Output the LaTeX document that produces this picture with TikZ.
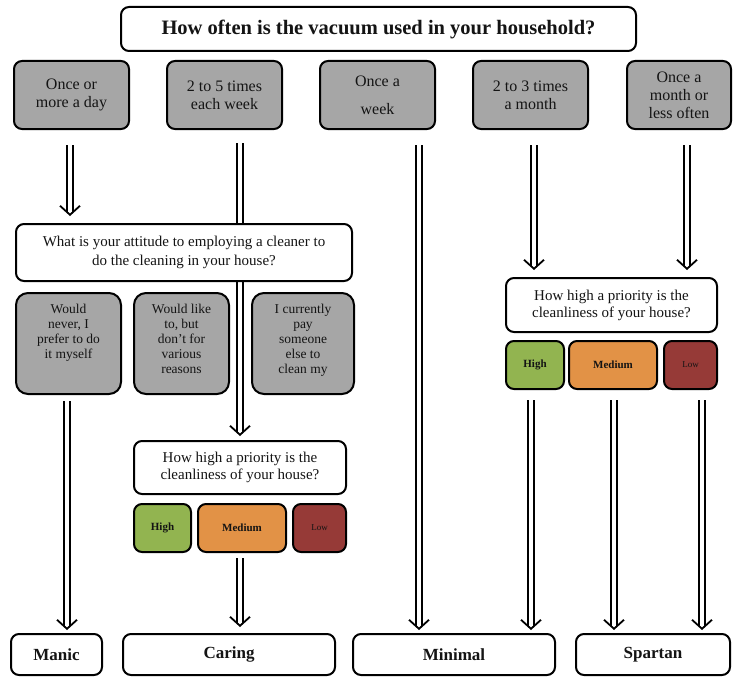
\documentclass[tikz,border=0pt]{standalone}
\usepackage{fontspec}
\setmainfont{Liberation Serif}
\usetikzlibrary{arrows.meta,positioning,backgrounds,decorations.markings}
\definecolor{choicegray}{RGB}{166,166,166}
\definecolor{highgreen}{RGB}{146,180,80}
\definecolor{medorange}{RGB}{226,146,70}
\definecolor{lowred}{RGB}{150,58,55}

\begin{document}
\begin{tikzpicture}[
    x=1pt, y=-1pt,
    node distance=5pt,
    every node/.style={text=black!92},
    base/.style={draw, line width=2pt, rounded corners=8pt, align=center, inner sep=2pt},
    title/.style={base, fill=white, minimum width=515pt, minimum height=44pt, font=\fontsize{20.5}{24}\selectfont\bfseries},
    freq/.style={base, fill=choicegray, minimum width=115pt, minimum height=68pt, font=\fontsize{16}{18}\selectfont},
    question/.style={base, fill=white, font=\fontsize{15}{19}\selectfont},
    answer/.style={base, fill=choicegray, rounded corners=12pt, minimum height=101pt, font=\fontsize{13.5}{15}\selectfont},
    level/.style={base, minimum height=48pt, font=\fontsize{11}{13}\selectfont\bfseries},
    result/.style={base, fill=white, minimum height=41pt, font=\fontsize{17}{20}\selectfont\bfseries},
    flow/.style={double, double distance=4pt, line width=1.8pt, shorten >=3.6pt,
        postaction={decorate, decoration={markings, mark=at position 1 with
            {\arrow[line width=1.8pt]{Straight Barb[length=9pt, width=20pt, line cap=butt]}}}}}
]
\useasboundingbox (0,0) rectangle (737,677);

% first question and how often
\node[title] (howoften) at (378.5,29) {How often is the vacuum used in your household?};
\node[freq] (daily) at (71.5,95) {Once or\\more a day};
\node[freq, right=36pt of daily] (weekly) {2 to 5 times\\each week};
\node[freq, right=36pt of weekly] (once) {Once a\\[10pt]week};
\node[freq, right=36pt of once] (monthly) {2 to 3 times\\a month};
\node[freq, right=37pt of monthly, minimum width=104pt] (rarely) {Once a\\month or\\less often};

% cleaner question
\node[question, minimum width=336pt, minimum height=57pt] (cleaner) at (184,252.5)
    {What is your attitude to employing a cleaner to\\do the cleaning in your house?};
\node[answer, minimum width=105pt, anchor=north west] (never) at ([yshift=-10pt]cleaner.south west)
    {\parbox[c][78pt][t]{100pt}{\centering Would\\never, I\\prefer to do\\it myself}};
\node[answer, minimum width=95pt, right=11pt of never] (wouldlike)
    {\parbox[c][78pt][t]{90pt}{\centering Would like\\to, but\\don't for\\various\\reasons}};
\node[answer, minimum width=102pt, right=21pt of wouldlike] (already)
    {\parbox[c][78pt][t]{98pt}{\centering I currently\\pay\\someone\\else to\\clean my}};

% priority questions
\node[question, minimum width=212pt, minimum height=53pt, font=\fontsize{15}{17}\selectfont] (cleanleft) at (240,467.5)
    {How high a priority is the\\cleanliness of your house?};
\node[level, fill=highgreen, minimum width=57pt, anchor=north west] (highleft) at ([yshift=-8pt]cleanleft.south west) {High};
\node[level, fill=medorange, minimum width=88pt, right=of highleft] (medleft) {Medium};
\node[level, fill=lowred, minimum width=53pt, right=of medleft, font=\fontsize{9}{11}\selectfont] (lowleft) {Low};

\node[question, minimum width=211pt, minimum height=54pt, font=\fontsize{15}{17}\selectfont] (cleanright) at (611.5,305)
    {How high a priority is the\\cleanliness of your house?};
\node[level, fill=highgreen, minimum width=58pt, anchor=north west] (highright) at ([yshift=-7pt]cleanright.south west) {High};
\node[level, fill=medorange, minimum width=88pt, right=3pt of highright] (medright) {Medium};
\node[level, fill=lowred, minimum width=53pt, right=of medright, font=\fontsize{9}{11}\selectfont] (lowright) {Low};

% types
\node[result, minimum width=91pt] (manic) at (56.5,654.5) {Manic};
\node[result, minimum width=212pt, right=19pt of manic] (caring) {Caring};
\node[result, minimum width=202pt, right=16pt of caring] (minimal) {Minimal};
\node[result, minimum width=154pt, right=19pt of minimal] (spartan) {Spartan};

\begin{scope}[on background layer]
\draw[flow] ([yshift=-13pt]weekly.south -| cleanleft.north) -- ([yshift=4pt]cleanleft.north);
\end{scope}
\draw[flow] ([xshift=-1.5pt,yshift=-15pt]daily.south) -- ([xshift=-1.5pt,yshift=7pt]daily.south |- cleaner.north);
\draw[flow] ([xshift=41.5pt,yshift=-15pt]once.south) -- ([xshift=41.5pt,yshift=3pt]once.south |- minimal.north);
\draw[flow] ([xshift=3.5pt,yshift=-15pt]monthly.south) -- ([xshift=3.5pt,yshift=7pt]monthly.south |- cleanright.north);
\draw[flow] ([xshift=8pt,yshift=-15pt]rarely.south) -- ([xshift=8pt,yshift=7pt]rarely.south |- cleanright.north);
\draw[flow] ([xshift=-1.5pt,yshift=-6pt]never.south) -- ([xshift=-1.5pt,yshift=3pt]never.south |- manic.north);
\draw[flow] ([xshift=-2pt,yshift=-5pt]medleft.south) -- ([xshift=-2pt,yshift=6pt]medleft.south |- caring.north);
\draw[flow] ([xshift=-4pt,yshift=-10pt]highright.south) -- ([xshift=-4pt,yshift=3pt]highright.south |- minimal.north);
\draw[flow] ([xshift=1pt,yshift=-10pt]medright.south) -- ([xshift=1pt,yshift=3pt]medright.south |- spartan.north);
\draw[flow] ([xshift=11.5pt,yshift=-10pt]lowright.south) -- ([xshift=11.5pt,yshift=3pt]lowright.south |- spartan.north);
\end{tikzpicture}
\end{document}
